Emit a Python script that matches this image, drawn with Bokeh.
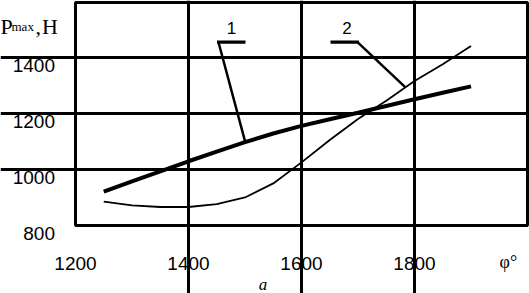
import numpy as np
from bokeh.plotting import figure
from bokeh.models import Range1d, FixedTicker, Label
from bokeh.core.properties import value
from bokeh.embed import file_html
from bokeh.resources import INLINE

# ---- data ----
phi = [1250, 1300, 1350, 1400, 1450, 1500, 1550, 1600, 1650, 1700, 1750, 1800, 1850, 1900]
series_1 = [921, 957, 993, 1029, 1063, 1097, 1128, 1155, 1179, 1202, 1226, 1250, 1273, 1296]
series_2 = [885, 872, 866, 866, 876, 900, 950, 1025, 1105, 1180, 1245, 1315, 1375, 1440]
x_ticks = [1200, 1400, 1600, 1800]
y_ticks = [800, 1000, 1200, 1400]
x_tick_labels = ["1200", "1400", "1600", "1800"]
y_tick_labels = ["800", "1000", "1200", "1400"]
curve_labels = ["1", "2"]

# ---- layout (pixel geometry of the plot box) ----
W, H = 529, 293
FL, FR, FT, FB = 75, 527, 2, 225
X0, X1, Y0, Y1 = 1200, 2000, 800, 1595
sx = (FR - FL) / (X1 - X0)
sy = (FB - FT) / (Y1 - Y0)


def xd(px):
    return X0 + (px - FL) / sx


def yd(py):
    return Y0 + (FB - py) / sy


p = figure(width=W, height=H, output_backend="svg", toolbar_location=None,
           x_axis_location=None, y_axis_location=None, min_border=0,
           x_range=Range1d(xd(0), xd(W)), y_range=Range1d(yd(H), yd(0)),
           background_fill_color="white", border_fill_color="white")
p.margin = (0, 0, 0, 0)
p.outline_line_color = None

# grid
p.xgrid.ticker = FixedTicker(ticks=x_ticks[1:])
p.ygrid.ticker = FixedTicker(ticks=y_ticks[1:])
p.xgrid.bounds = (Y0, Y1)
p.ygrid.bounds = (X0, X1)
p.grid.grid_line_color = "black"
p.grid.grid_line_width = 3
p.grid.grid_line_alpha = 1

# plot box
p.quad(left=[X0], right=[X1], bottom=[Y0], top=[Y1], fill_color=None,
       line_color="black", line_width=3)

# tick labels
p.text(x=[xd(54.5)] * len(y_ticks), y=[t - 8 / sy for t in y_ticks], text=y_tick_labels,
       text_align="right", text_baseline="alphabetic", text_font=value("Liberation Sans"),
       text_font_size="19px", text_color="black")
p.text(x=x_ticks, y=[yd(263)] * len(x_ticks), text=x_tick_labels,
       text_align="center", text_baseline="alphabetic", text_font=value("Liberation Sans"),
       text_font_size="19px", text_color="black")

# curves
p.line(phi, series_1, line_color="black", line_width=4)
p.line(phi, series_2, line_color="black", line_width=1.8)

# leaders
ly = yd(41.7)
tip1x = 1500
tip1y = float(np.interp(tip1x, phi, series_1)) + 4
p.line([xd(216.5), xd(245)], [ly, ly], line_color="black", line_width=3.3)
p.line([xd(218), tip1x], [ly, tip1y], line_color="black", line_width=2.5)

tip2x = 1784
tip2y = float(np.interp(tip2x, phi, series_2))
p.line([xd(330), xd(358.5)], [ly, ly], line_color="black", line_width=3.3)
p.line([xd(357), tip2x], [ly, tip2y], line_color="black", line_width=2.5)

for txt, px in zip(curve_labels, [231, 346.5]):
    p.add_layout(Label(x=xd(px), y=yd(27), text=txt, text_align="center",
                       text_baseline="alphabetic", text_font="Liberation Sans",
                       text_font_size="17px", text_color="black"))

# axis titles
serif = "Liberation Serif"
p.add_layout(Label(x=xd(0), y=yd(26), text="P", text_font=serif,
                   text_font_size="22px", text_baseline="alphabetic", text_color="black"))
p.add_layout(Label(x=xd(11), y=yd(26), text="max", text_font=serif,
                   text_font_size="13px", text_baseline="alphabetic", text_color="black"))
p.add_layout(Label(x=xd(35), y=yd(26), text=",", text_font=serif,
                   text_font_size="22px", text_baseline="alphabetic", text_color="black"))
p.add_layout(Label(x=xd(41.5), y=yd(26), text="H", text_font=serif,
                   text_font_size="22px", text_baseline="alphabetic", text_color="black"))
p.add_layout(Label(x=xd(499), y=yd(261), text="φ°", text_font=serif,
                   text_font_size="18px", text_baseline="alphabetic", text_color="black"))
p.add_layout(Label(x=xd(262.5), y=yd(284), text="a", text_font=serif,
                   text_font_style="italic", text_font_size="17px", text_align="center",
                   text_baseline="alphabetic", text_color="black"))

open("out.html", "w").write(file_html(p, INLINE))
